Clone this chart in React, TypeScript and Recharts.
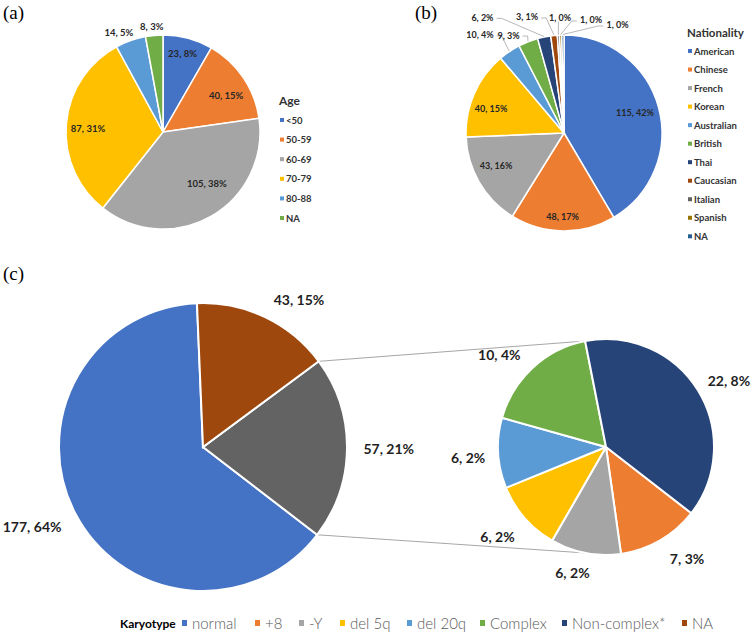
import React from 'react';
import { PieChart, Pie, Cell } from 'recharts';

// ---------- data ----------
const ageCategories = ['<50', '50-59', '60-69', '70-79', '80-88', 'NA'];
const ageCounts = [23, 40, 105, 87, 14, 8];

const nationalities = ['American', 'Chinese', 'French', 'Korean', 'Australian', 'British', 'Thai', 'Caucasian', 'Italian', 'Spanish', 'NA'];
const nationalityCounts = [115, 48, 43, 40, 10, 9, 6, 3, 1, 1, 1];

const karyotypes = ['normal', '+8', '-Y', 'del 5q', 'del 20q', 'Complex', 'Non-complex*', 'NA'];
const karyotypeCounts = [177, 7, 6, 6, 6, 10, 22, 43];
const otherGroup = ['+8', '-Y', 'del 5q', 'del 20q', 'Complex', 'Non-complex*'];

// ---------- styles ----------
const ageColors = ['#4472C4', '#ED7D31', '#A5A5A5', '#FFC000', '#5B9BD5', '#70AD47'];
const natColors = ['#4472C4', '#ED7D31', '#A5A5A5', '#FFC000', '#5B9BD5', '#70AD47', '#264478', '#9E480E', '#636363', '#997300', '#255E91'];
const karyoColors: Record<string, string> = {
  normal: '#4472C4', '+8': '#ED7D31', '-Y': '#A5A5A5', 'del 5q': '#FFC000', 'del 20q': '#5B9BD5',
  Complex: '#70AD47', 'Non-complex*': '#264478', NA: '#9E480E', Other: '#636363',
};

type LabelStyle = { rf: number; da: number; line?: boolean };
const ageLabelStyles: LabelStyle[] = [
  { rf: 0.83, da: 0.9 }, { rf: 0.75, da: -4.4 }, { rf: 0.7, da: 10.3 },
  { rf: 0.774, da: 1.95 }, { rf: 1.126, da: 4.3 }, { rf: 1.09, da: 0.9 },
];
const natLabelStyles: LabelStyle[] = [
  { rf: 0.755, da: 1.2 }, { rf: 0.857, da: -0.35 }, { rf: 0.77, da: -4.5 }, { rf: 0.786, da: 5 },
  { rf: 1.317, da: 6.8, line: true }, { rf: 1.149, da: 8.1, line: true }, { rf: 1.444, da: 23.5, line: true },
  { rf: 1.243, da: 11.85, line: true }, { rf: 1.184, da: -1.3, line: true }, { rf: 1.186, da: -15.4, line: true },
  { rf: 1.23, da: -27.0, line: true },
];
const bigLabelStyles: LabelStyle[] = [
  { rf: 1.31, da: -2.35 }, { rf: 1.29, da: 0.2 }, { rf: 1.225, da: -7.44 },
];
const smallLabelStyles: LabelStyle[] = [
  { rf: 1.28, da: 5.8 }, { rf: 1.207, da: -3.95 }, { rf: 1.3, da: -1.75 },
  { rf: 1.28, da: 1.15 }, { rf: 1.31, da: 6.2 }, { rf: 1.296, da: -3.1 },
];

const PIE_A = { cx: 163, cy: 132, r: 97, start: 90 };
const PIE_B = { cx: 564, cy: 133, r: 98, start: 90 };
const PIE_BIG = { cx: 203, cy: 447, r: 144, start: 92.4 };
const PIE_SMALL = { cx: 606, cy: 447, r: 108, start: -37.8, connect: 101.2 };

const LABEL_FONT = 'Lato, "Open Sans", sans-serif';
const RAD = Math.PI / 180;

function lrPercents(vals: number[]): number[] {
  const total = vals.reduce((a, b) => a + b, 0);
  const raw = vals.map((v) => (v * 100) / total);
  const fl = raw.map((r) => Math.floor(r));
  const rem = 100 - fl.reduce((a, b) => a + b, 0);
  const order = raw.map((r, i) => ({ i, f: r - Math.floor(r) })).sort((a, b) => b.f - a.f);
  for (let k = 0; k < rem; k++) fl[order[k].i]++;
  return fl;
}

function makeLabel(percents: number[], styles: LabelStyle[], fontSize: number, fill: string) {
  return (props: any) => {
    const { cx, cy, midAngle, outerRadius, index, value } = props;
    const st = styles[index];
    const a = (midAngle + st.da) * RAD;
    const r = outerRadius * st.rf;
    const x = cx + r * Math.cos(a);
    const y = cy - r * Math.sin(a);
    const text = `${value}, ${percents[index]}%`;
    let line: React.ReactNode = null;
    if (st.line) {
      const m = midAngle * RAD;
      const ex = cx + (outerRadius + 0.5) * Math.cos(m);
      const ey = cy - (outerRadius + 0.5) * Math.sin(m);
      const hw = text.length * fontSize * 0.27 + 1;
      let pts = '';
      if (ex > x + hw) {
        const sx = x + hw + 1;
        pts = `${sx},${y + 1} ${sx + 5},${y + 1} ${ex},${ey}`;
      } else if (ex < x - hw) {
        const sx = x - hw - 1;
        pts = `${sx},${y + 1} ${sx - 5},${y + 1} ${ex},${ey}`;
      } else {
        pts = `${ex},${y + fontSize * 0.5} ${ex},${ey}`;
      }
      line = <polyline points={pts} fill="none" stroke="#a6a6a6" strokeWidth={0.8} />;
    }
    return (
      <g key={`lbl-${index}`}>
        {line}
        <text x={x} y={y} textAnchor="middle" dominantBaseline="central" fontFamily={LABEL_FONT}
          fontWeight={700} fontSize={fontSize} fill={fill}>{text}</text>
      </g>
    );
  };
}

// ---------- derived tables ----------
const ageData = ageCategories.map((name, i) => ({ name, value: ageCounts[i] }));
const natData = nationalities.map((name, i) => ({ name, value: nationalityCounts[i] }));
const countOf = (k: string) => karyotypeCounts[karyotypes.indexOf(k)];
const otherTotal = otherGroup.reduce((s, k) => s + countOf(k), 0);
const bigData = [
  { name: 'normal', value: countOf('normal') },
  { name: 'Other', value: otherTotal },
  { name: 'NA', value: countOf('NA') },
];
const smallData = otherGroup.map((name) => ({ name, value: countOf(name) }));

const agePct = lrPercents(ageCounts);
const natPct = lrPercents(nationalityCounts);
const bigPct = lrPercents(bigData.map((d) => d.value));
const allPct = lrPercents(karyotypeCounts);
const smallPct = otherGroup.map((k) => allPct[karyotypes.indexOf(k)]);

const totalKaryo = karyotypeCounts.reduce((a, b) => a + b, 0);
const otherStartAngle = PIE_BIG.start + (360 * bigData[0].value) / totalKaryo;
const otherEndAngle = otherStartAngle + (360 * otherTotal) / totalKaryo;
const pt = (p: { cx: number; cy: number; r: number }, ang: number) => ({
  x: p.cx + p.r * Math.cos(ang * RAD),
  y: p.cy - p.r * Math.sin(ang * RAD),
});

const legendCX = [182, 255, 299, 340, 407, 480, 562, 682];

export default function App() {
  const upA = pt(PIE_BIG, otherEndAngle);
  const upB = pt(PIE_SMALL, PIE_SMALL.connect);
  const loA = pt(PIE_BIG, otherStartAngle);
  const loB = pt(PIE_SMALL, -PIE_SMALL.connect);
  return (
    <div style={{ position: 'absolute', left: 0, top: 0, width: 755, height: 634, background: '#fff' }}>
      <svg width={755} height={634} style={{ position: 'absolute', left: 0, top: 0 }}>
        <line x1={upA.x} y1={upA.y} x2={upB.x} y2={upB.y} stroke="#a6a6a6" strokeWidth={1} />
        <line x1={loA.x} y1={loA.y} x2={loB.x} y2={loB.y} stroke="#a6a6a6" strokeWidth={1} />
      </svg>
      <div style={{ position: 'absolute', left: 0, top: 0 }}>
        <PieChart width={755} height={634} margin={{ top: 0, right: 0, bottom: 0, left: 0 }}>
          <Pie data={ageData} dataKey="value" nameKey="name" cx={PIE_A.cx} cy={PIE_A.cy} outerRadius={PIE_A.r}
            startAngle={PIE_A.start} endAngle={PIE_A.start - 360} stroke="#fff" strokeWidth={1.5}
            isAnimationActive={false} labelLine={false} label={makeLabel(agePct, ageLabelStyles, 9.5, '#262626')}>
            {ageData.map((d, i) => <Cell key={d.name} fill={ageColors[i]} />)}
          </Pie>
          <Pie data={natData} dataKey="value" nameKey="name" cx={PIE_B.cx} cy={PIE_B.cy} outerRadius={PIE_B.r}
            startAngle={PIE_B.start} endAngle={PIE_B.start - 360} stroke="#fff" strokeWidth={1.5}
            isAnimationActive={false} labelLine={false} label={makeLabel(natPct, natLabelStyles, 9, '#262626')}>
            {natData.map((d, i) => <Cell key={d.name} fill={natColors[i]} />)}
          </Pie>
          <Pie data={bigData} dataKey="value" nameKey="name" cx={PIE_BIG.cx} cy={PIE_BIG.cy} outerRadius={PIE_BIG.r}
            startAngle={PIE_BIG.start} endAngle={PIE_BIG.start + 360} stroke="#fff" strokeWidth={2}
            isAnimationActive={false} labelLine={false} label={makeLabel(bigPct, bigLabelStyles, 14, '#1f1f1f')}>
            {bigData.map((d) => <Cell key={d.name} fill={karyoColors[d.name]} />)}
          </Pie>
          <Pie data={smallData} dataKey="value" nameKey="name" cx={PIE_SMALL.cx} cy={PIE_SMALL.cy} outerRadius={PIE_SMALL.r}
            startAngle={PIE_SMALL.start} endAngle={PIE_SMALL.start - 360} stroke="#fff" strokeWidth={2}
            isAnimationActive={false} labelLine={false} label={makeLabel(smallPct, smallLabelStyles, 14, '#1f1f1f')}>
            {smallData.map((d) => <Cell key={d.name} fill={karyoColors[d.name]} />)}
          </Pie>
        </PieChart>
      </div>
      <svg width={755} height={634} style={{ position: 'absolute', left: 0, top: 0, pointerEvents: 'none' }}>
        <g fontFamily='"Times New Roman", "Liberation Serif", serif' fontSize={19} fill="#000">
          <text x={3} y={19}>(a)</text>
          <text x={415} y={19}>(b)</text>
          <text x={3} y={280}>(c)</text>
        </g>
        {/* Age legend */}
        <g fontFamily={LABEL_FONT} fill="#333">
          <text x={279} y={100} dominantBaseline="central" fontSize={12} fontWeight={700}>Age</text>
          {ageCategories.map((c, i) => (
            <g key={c}>
              <rect x={280} y={120 + i * 19.6 - 2} width={4} height={4} fill={ageColors[i]} />
              <text x={286} y={120 + i * 19.6} dominantBaseline="central" fontSize={9.5} fontWeight={700}>{c}</text>
            </g>
          ))}
        </g>
        {/* Nationality legend */}
        <g fontFamily={LABEL_FONT} fill="#333">
          <text x={687} y={32} dominantBaseline="central" fontSize={11.5} fontWeight={700}>Nationality</text>
          {nationalities.map((c, i) => (
            <g key={c}>
              <rect x={688} y={51 + i * 18.53 - 2} width={4} height={4} fill={natColors[i]} />
              <text x={694} y={51 + i * 18.53} dominantBaseline="central" fontSize={9.5} fontWeight={700}>{c}</text>
            </g>
          ))}
        </g>
        {/* Karyotype legend */}
        <g fontFamily={LABEL_FONT}>
          <text x={120} y={623} dominantBaseline="central" fontSize={12} fontWeight={700} fill="#000">Karyotype</text>
          {karyotypes.map((k, i) => (
            <g key={k}>
              <rect x={legendCX[i]} y={620} width={5} height={6} fill={karyoColors[k]} />
              <text x={legendCX[i] + 10} y={623} dominantBaseline="central" fontSize={15} fontWeight={300} fill="#595959">{k}</text>
            </g>
          ))}
        </g>
      </svg>
    </div>
  );
}
